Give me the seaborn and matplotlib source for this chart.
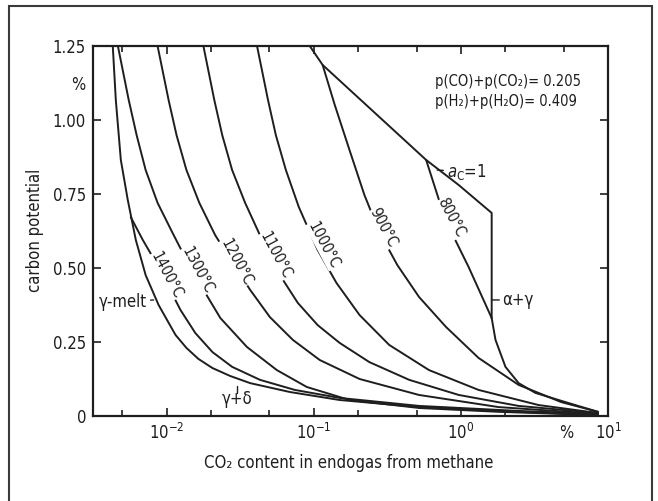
import numpy as np
import pandas as pd
import matplotlib
matplotlib.use("Agg")
import matplotlib.pyplot as plt
import seaborn as sns
from matplotlib.ticker import LogLocator, FixedLocator, NullFormatter, FuncFormatter
from matplotlib.patches import Rectangle

# CO2 content in endogas (%) vs carbon potential (%)
melt_co2 = [0.00431, 0.00452, 0.00489, 0.00545, 0.00618, 0.00721, 0.00883, 0.0115,
            0.01365, 0.01644, 0.0205, 0.0271, 0.0370, 0.0689, 0.150, 0.520, 2.47, 8.55]
melt_c = [1.25, 1.068, 0.865, 0.730, 0.595, 0.476, 0.375, 0.274,
          0.230, 0.193, 0.162, 0.135, 0.111, 0.081, 0.054, 0.030, 0.014, 0.003]

t1400_co2 = [0.00571, 0.00689, 0.00843, 0.01016, 0.01244, 0.0157, 0.0205, 0.0279,
             0.0432, 0.0745, 0.150, 0.520, 2.47, 8.55]
t1400_c = [0.672, 0.595, 0.520, 0.443, 0.358, 0.280, 0.216, 0.166,
           0.122, 0.088, 0.061, 0.034, 0.017, 0.007]

t1300_co2 = [0.00467, 0.00553, 0.00626, 0.00721, 0.00869, 0.0110, 0.01365, 0.0170,
             0.0232, 0.0352, 0.0562, 0.0897, 0.175, 0.520, 1.81, 8.55]
t1300_c = [1.25, 1.068, 0.949, 0.831, 0.720, 0.618, 0.527, 0.443,
           0.331, 0.233, 0.155, 0.098, 0.054, 0.027, 0.014, 0.003]

t1200_co2 = [0.00869, 0.01032, 0.01169, 0.01365, 0.0167, 0.0214, 0.0279, 0.0370,
             0.0504, 0.0722, 0.110, 0.205, 0.520, 1.81, 8.55]
t1200_c = [1.25, 1.068, 0.949, 0.831, 0.720, 0.611, 0.520, 0.426,
           0.334, 0.257, 0.189, 0.125, 0.071, 0.030, 0.007]

t1100_co2 = [0.0178, 0.0211, 0.0239, 0.0279, 0.0342, 0.0446, 0.0589, 0.0780,
             0.1064, 0.150, 0.239, 0.446, 0.969, 2.47, 8.55]
t1100_c = [1.25, 1.068, 0.949, 0.831, 0.720, 0.595, 0.476, 0.382,
           0.307, 0.247, 0.182, 0.122, 0.071, 0.034, 0.010]

t1000_co2 = [0.0412, 0.0489, 0.0553, 0.0647, 0.0792, 0.1064, 0.143, 0.205,
             0.326, 0.608, 1.32, 3.37, 8.55]
t1000_c = [1.25, 1.068, 0.949, 0.831, 0.706, 0.561, 0.449, 0.341,
           0.240, 0.155, 0.088, 0.037, 0.010]

t900_co2 = [0.115, 0.139, 0.175, 0.221, 0.279, 0.370, 0.520, 0.792, 1.32, 2.47, 4.81, 8.55]
t900_c = [1.186, 1.051, 0.899, 0.747, 0.622, 0.510, 0.402, 0.301, 0.196, 0.105, 0.047, 0.014]

t800_co2 = [0.581, 0.710, 0.869, 1.13, 1.62]
t800_c = [0.865, 0.730, 0.618, 0.503, 0.331]

# graphite saturation (a_C = 1) with the alpha+gamma step, and the boundary below it
ac1_co2 = [0.0940, 0.115, 0.239, 0.581, 0.969, 1.62, 1.62]
ac1_c = [1.25, 1.186, 1.041, 0.865, 0.780, 0.686, 0.331]

ag_co2 = [1.62, 1.72, 2.01, 2.47, 3.21, 5.37, 8.55]
ag_c = [0.331, 0.257, 0.166, 0.111, 0.078, 0.044, 0.014]

temp_labels = ["1400°C", "1300°C", "1200°C", "1100°C", "1000°C", "900°C", "800°C"]
label_co2 = [0.0100, 0.0162, 0.0297, 0.0553, 0.117, 0.297, 0.855]
label_c = [0.476, 0.493, 0.520, 0.544, 0.578, 0.635, 0.669]

sns.set_style("ticks")
plt.rcParams['font.family'] = ['Liberation Sans Narrow', 'DejaVu Sans']
plt.rcParams['font.stretch'] = 'condensed'
ink = '#1e1e1e'
fs = 12

fig = plt.figure(figsize=(6.58, 5.01), dpi=100)
ax = fig.add_axes([0.1413, 0.1697, 0.7827, 0.7385])

curves = [(melt_co2, melt_c), (t1400_co2, t1400_c), (t1300_co2, t1300_c),
          (t1200_co2, t1200_c), (t1100_co2, t1100_c), (t1000_co2, t1000_c),
          (t900_co2, t900_c), (t800_co2, t800_c), (ac1_co2, ac1_c), (ag_co2, ag_c)]
for xs, ys in curves:
    sns.lineplot(x=xs, y=ys, ax=ax, sort=False, estimator=None,
                 color=ink, linewidth=1.4)

ax.set_xscale('log')
ax.set_xlim(10 ** -2.5, 10)
ax.set_ylim(0, 1.25)

# temperature labels sit on the isotherms and break them
for txt, x, y in zip(temp_labels, label_co2, label_c):
    ax.text(x, y, txt, rotation=-62, ha='center', va='center', fontsize=11,
            color=ink, rotation_mode='anchor',
            bbox=dict(facecolor='white', edgecolor='none', pad=0.3))

lead = dict(arrowstyle='-', color=ink, lw=1, shrinkA=0, shrinkB=0)
ax.annotate("γ-melt", xy=(0.00817, 0.392), xytext=(0.0074, 0.385),
            ha='right', va='center', fontsize=fs, color=ink, arrowprops=lead)
ax.text(0.0302, 0.058, "γ+δ", ha='center', va='center', fontsize=fs, color=ink)
ax.plot([0.0302, 0.0302], [0.078, 0.101], color=ink, lw=1)
ax.annotate("$a_\\mathrm{C}$=1", xy=(0.690, 0.831), xytext=(0.80, 0.825),
            ha='left', va='center', fontsize=fs, color=ink, arrowprops=lead)
ax.annotate("α+γ", xy=(1.62, 0.392), xytext=(1.92, 0.392),
            ha='left', va='center', fontsize=fs, color=ink, arrowprops=lead)
ax.text(0.664, 0.903, "p(CO)+p(CO₂)= 0.205", transform=ax.transAxes,
        ha='left', va='center', fontsize=10.5, color=ink)
ax.text(0.664, 0.851, "p(H₂)+p(H₂O)= 0.409", transform=ax.transAxes,
        ha='left', va='center', fontsize=10.5, color=ink)

# axes, ticks, labels
ax.xaxis.set_major_locator(FixedLocator([0.01, 0.1, 1, 10]))
ax.xaxis.set_major_formatter(FuncFormatter(lambda v, p: f"$10^{{{int(round(np.log10(v)))}}}$"))
ax.xaxis.set_minor_locator(LogLocator(base=10, subs=(2, 5)))
ax.xaxis.set_minor_formatter(NullFormatter())
ax.yaxis.set_major_locator(FixedLocator([0, 0.25, 0.5, 0.75, 1.0, 1.25]))
ax.yaxis.set_major_formatter(FuncFormatter(lambda v, p: "0" if v == 0 else f"{v:.2f}"))
ax.tick_params(which='both', direction='in', top=True, right=True, colors=ink,
               labelsize=fs, width=1.2)
ax.tick_params(which='major', length=6, pad=5)
ax.tick_params(which='minor', length=4)
for s in ax.spines.values():
    s.set_linewidth(1.6)
    s.set_color(ink)

ax.text(5.2, -0.045, "%", transform=ax.get_xaxis_transform(), ha='center',
        va='center', fontsize=fs, color=ink)
ax.text(-0.029, 1.118, "%", transform=ax.get_yaxis_transform(), ha='center',
        va='center', fontsize=fs, color=ink)

ax.set_ylabel("carbon potential", fontsize=12, color=ink)
ax.set_xlabel("CO₂ content in endogas from methane", fontsize=12, color=ink)
ax.yaxis.set_label_coords(-0.095, 0.503)
ax.xaxis.set_label_coords(0.497, -0.103)

fig.add_artist(Rectangle((9 / 658, -0.05), 643 / 658, 1.038, transform=fig.transFigure,
                         fill=False, edgecolor='#3a3a3a', linewidth=1.5, clip_on=False))

fig.savefig("out.png", dpi=100, facecolor='white')
